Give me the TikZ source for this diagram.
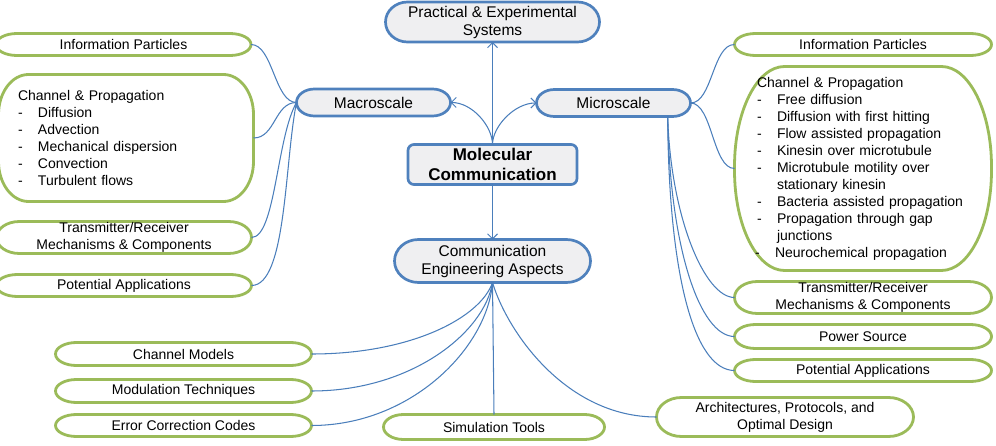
\documentclass[tikz,border=0pt]{standalone}
\usepackage{fontspec}
\setmainfont{Liberation Sans}
\usetikzlibrary{arrows.meta,calc,backgrounds}
\definecolor{nblue}{HTML}{4F81BD}
\definecolor{cblue}{HTML}{4A7EBB}
\definecolor{ngreen}{HTML}{9BBB59}
\definecolor{nfill}{HTML}{EFEFF1}
\newcommand{\itm}{\makebox[20pt][l]{-}}
% border with elliptical corners: #1 node, #2 rx, #3 ry, #4 style
\newcommand{\ovalborder}[4]{%
  \path[#4] let \p1=(#1.north east), \p2=(#1.south west) in
   (\x2+#2,\y1) -- (\x1-#2,\y1)
   arc[start angle=90,end angle=0,x radius=#2,y radius=#3] -- (\x1,\y2+#3)
   arc[start angle=0,end angle=-90,x radius=#2,y radius=#3] -- (\x2+#2,\y2)
   arc[start angle=270,end angle=180,x radius=#2,y radius=#3] -- (\x2,\y1-#3)
   arc[start angle=180,end angle=90,x radius=#2,y radius=#3] -- cycle;}
\begin{document}
\begin{tikzpicture}[x=1pt,y=1pt,
  boxtext/.style={inner sep=0pt, outer sep=0pt, align=center, text=black},
  bluebox/.style={boxtext, font=\fontsize{15.5}{18}\selectfont},
  greenbox/.style={boxtext, font=\fontsize{14}{17}\selectfont},
  blueline/.style={draw=nblue, line width=2.7pt, fill=nfill},
  greenline/.style={draw=ngreen, line width=2.8pt, fill=white},
  conn/.style={draw=cblue, line width=1.05pt},
  arr/.style={conn, -{Straight Barb[length=5pt,width=10pt]}},
]
\useasboundingbox (0,0) rectangle (996,-446);

% central blue nodes
\node[bluebox, minimum width=214pt, minimum height=40pt] (prac) at (492.5,-22) {Practical \& Experimental\\Systems};
\node[bluebox, minimum width=154pt, minimum height=27pt] (macro) at (373.5,-102.5) {Macroscale};
\node[bluebox, minimum width=154pt, minimum height=27pt] (micro) at (613.5,-103) {Microscale};
\node[bluebox, minimum width=169pt, minimum height=40pt, font=\fontsize{17}{20}\selectfont\bfseries] (mol) at (492.5,-164.5) {Molecular\\Communication};
\node[bluebox, minimum width=196pt, minimum height=43pt] (ce) at (492.5,-261) {Communication\\Engineering Aspects};

% left green nodes
\node[greenbox, minimum width=255pt, minimum height=22pt] (infoL) at (123.5,-44.5) {Information Particles};
\node[greenbox, minimum width=255pt, minimum height=127pt, align=left, text width=216pt] (chanL) at (126,-138) {Channel \& Propagation\\\itm Diffusion\\\itm Advection\\\itm Mechanical dispersion\\\itm Convection\\\itm Turbulent flows};
\node[greenbox, minimum width=255pt, minimum height=32pt] (trL) at (124,-237.5) {Transmitter/Receiver\\Mechanisms \& Components};
\node[greenbox, minimum width=255pt, minimum height=22pt] (potL) at (124,-285.5) {Potential Applications};

% right green nodes
\node[greenbox, minimum width=257pt, minimum height=22pt] (infoR) at (863,-44.5) {Information Particles};
\node[greenbox, minimum width=257pt, minimum height=204pt, align=left, text width=212pt] (chanR) at (863,-168.5) {Channel \& Propagation\\\itm Free diffusion\\\itm Diffusion with first hitting\\\itm Flow assisted propagation\\\itm Kinesin over microtubule\\\itm Microtubule motility over\\\hspace*{20pt}stationary kinesin\\\itm Bacteria assisted propagation\\\itm Propagation through gap\\\hspace*{20pt}junctions\\\hspace*{-2pt}\itm Neurochemical propagation};
\node[greenbox, minimum width=257pt, minimum height=32pt] (trR) at (863,-297.5) {Transmitter/Receiver\\Mechanisms \& Components};
\node[greenbox, minimum width=257pt, minimum height=24pt] (powR) at (863,-336.5) {Power Source};
\node[greenbox, minimum width=257pt, minimum height=22pt] (potR) at (863,-370.5) {Potential Applications};

% bottom green nodes
\node[greenbox, minimum width=256pt, minimum height=23pt] (cm) at (183.5,-354) {Channel Models};
\node[greenbox, minimum width=256pt, minimum height=23pt] (mod) at (183.5,-391) {Modulation Techniques};
\node[greenbox, minimum width=256pt, minimum height=22pt] (ecc) at (183.5,-425.5) {Error Correction Codes};
\node[greenbox, minimum width=221pt, minimum height=25pt] (sim) at (494,-427) {Simulation Tools};
\node[greenbox, minimum width=257pt, minimum height=39pt] (arch) at (785,-417) {Architectures, Protocols, and\\Optimal Design};

% borders behind the texts
\begin{scope}[on background layer]
\ovalborder{prac}{22pt}{20pt}{blueline}
\ovalborder{macro}{18pt}{13.5pt}{blueline}
\ovalborder{micro}{18pt}{13.5pt}{blueline}
\ovalborder{mol}{6pt}{6pt}{blueline}
\ovalborder{ce}{24pt}{21.5pt}{blueline}
\ovalborder{infoL}{21pt}{11pt}{greenline}
\ovalborder{chanL}{30pt}{40pt}{greenline}
\ovalborder{trL}{23pt}{16pt}{greenline}
\ovalborder{potL}{21pt}{11pt}{greenline}
\ovalborder{infoR}{21pt}{11pt}{greenline}
\ovalborder{chanR}{50pt}{100pt}{greenline}
\ovalborder{trR}{23pt}{16pt}{greenline}
\ovalborder{powR}{21pt}{12pt}{greenline}
\ovalborder{potR}{21pt}{11pt}{greenline}
\ovalborder{cm}{21pt}{11.5pt}{greenline}
\ovalborder{mod}{21pt}{11.5pt}{greenline}
\ovalborder{ecc}{21pt}{11pt}{greenline}
\ovalborder{sim}{20pt}{12.5pt}{greenline}
\ovalborder{arch}{25pt}{19.5pt}{greenline}
\end{scope}

% arrows from the centre
\draw[arr] (mol.north) -- (prac.south);
\draw[arr] (mol.north) .. controls +(0,18) and +(22,0) .. (macro.east);
\draw[arr] (mol.north) .. controls +(0,18) and +(-22,0) .. (micro.west);
\draw[arr] (mol.south) -- (ce.north);

% macroscale connectors
\draw[conn] (macro.west) .. controls +(-22,0) and +(22,0) .. (infoL.east);
\draw[conn] (macro.west) .. controls +(-22,0) and +(22,0) .. (chanL.east);
\draw[conn] (macro.west) .. controls +(-20,-35) and +(24,0) .. (trL.east);
\draw[conn] (macro.west) .. controls +(-12,-60) and +(35,0) .. (potL.east);

% microscale connectors
\coordinate (mb) at (micro.-14.5);
\draw[conn] (micro.east) .. controls +(22,0) and +(-22,0) .. (infoR.west);
\draw[conn] (micro.east) .. controls +(22,0) and +(-22,0) .. (chanR.west);
\draw[conn] (mb) .. controls +(3,-100) and +(-30,0) .. (trR.west);
\draw[conn] (mb) .. controls +(2,-130) and +(-35,0) .. (powR.west);
\draw[conn] (mb) .. controls +(1,-160) and +(-40,0) .. (potR.west);

% engineering connectors
\draw[conn] (ce.south) .. controls +(-12,-35) and +(100,0) .. (cm.east);
\draw[conn] (ce.south) .. controls +(-8,-50) and +(100,0) .. (mod.east);
\draw[conn] (ce.south) .. controls +(-5,-65) and +(100,0) .. (ecc.east);
\draw[conn] (ce.south) -- (sim.north);
\draw[conn] (ce.south) .. controls +(15,-50) and +(-90,0) .. (arch.west);
\end{tikzpicture}
\end{document}
